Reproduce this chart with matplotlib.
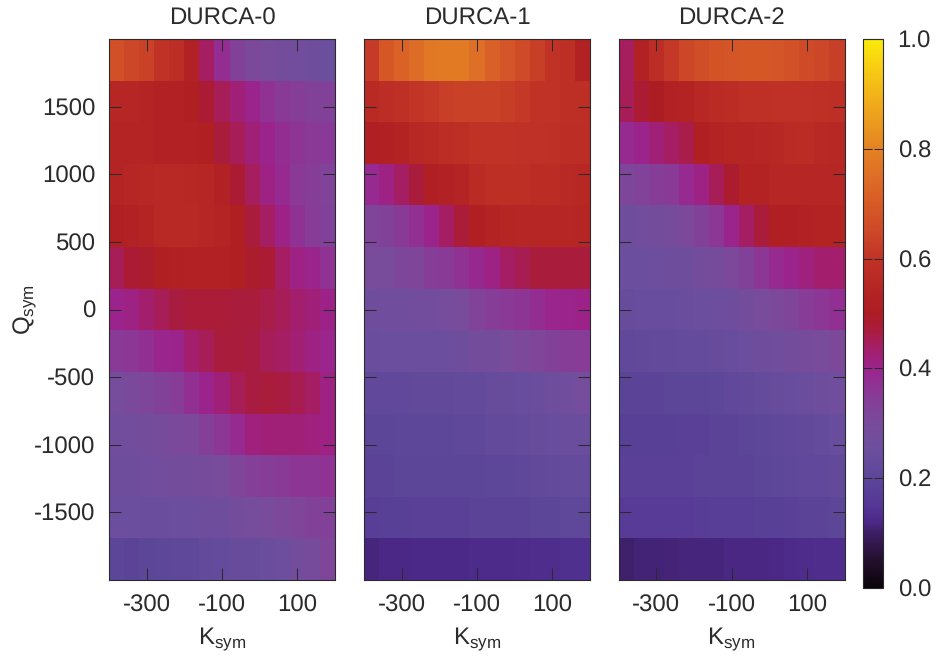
import numpy as np
import matplotlib
matplotlib.use('Agg')
import matplotlib.pyplot as plt
from matplotlib.colors import LinearSegmentedColormap

plt.rcParams['font.family'] = ['Liberation Sans', 'DejaVu Sans']
plt.rcParams['mathtext.fontset'] = 'custom'
plt.rcParams['mathtext.rm'] = 'Liberation Sans'
plt.rcParams['mathtext.default'] = 'rm'
plt.rcParams['axes.unicode_minus'] = False
plt.rcParams['text.hinting'] = 'none'
plt.rcParams['text.hinting_factor'] = 1

# cell edges
ksym_edges = np.linspace(-400, 200, 16)
qsym_edges = np.linspace(2000, -2000, 14)

titles = ['DURCA-0', 'DURCA-1', 'DURCA-2']
xticks = [-300, -100, 100]
yticks = [-1500, -1000, -500, 0, 500, 1000, 1500]
cticks = [0.0, 0.2, 0.4, 0.6, 0.8, 1.0]

# rows run top to bottom (Qsym 2000 -> -2000), columns left to right
durca0 = [
    [.67, .645, .635, .60, .58, .53, .44, .38, .33, .31, .30, .285, .275, .265, .25],
    [.55, .55, .54, .53, .53, .52, .48, .45, .42, .40, .37, .35, .34, .33, .33],
    [.54, .54, .54, .53, .53, .53, .52, .47, .45, .42, .40, .38, .365, .355, .35],
    [.54, .55, .555, .56, .56, .555, .55, .53, .48, .445, .41, .385, .355, .34, .325],
    [.515, .53, .54, .56, .56, .56, .55, .54, .52, .47, .44, .405, .37, .345, .33],
    [.45, .48, .49, .52, .525, .53, .53, .53, .52, .49, .48, .44, .41, .40, .37],
    [.40, .41, .43, .45, .465, .475, .475, .475, .47, .47, .46, .45, .43, .42, .405],
    [.35, .36, .375, .395, .40, .43, .45, .47, .47, .465, .45, .44, .425, .41, .395],
    [.29, .305, .315, .33, .345, .375, .40, .42, .45, .465, .47, .465, .455, .44, .41],
    [.27, .275, .28, .295, .305, .31, .335, .36, .385, .415, .42, .42, .42, .415, .41],
    [.265, .265, .27, .275, .28, .285, .295, .30, .32, .335, .34, .35, .365, .365, .37],
    [.25, .25, .245, .245, .25, .25, .265, .265, .28, .29, .30, .31, .32, .33, .33],
    [.20, .195, .20, .205, .21, .21, .225, .23, .235, .235, .245, .255, .28, .295, .32],
]
durca1 = [
    [.62, .69, .72, .745, .775, .78, .78, .75, .715, .685, .66, .63, .60, .585, .53],
    [.565, .58, .59, .605, .615, .63, .635, .635, .635, .625, .615, .60, .60, .585, .585],
    [.515, .525, .535, .555, .565, .58, .585, .60, .60, .60, .595, .595, .59, .58, .58],
    [.385, .41, .44, .47, .515, .53, .54, .57, .585, .585, .585, .575, .575, .56, .555],
    [.32, .33, .35, .375, .40, .44, .475, .52, .535, .545, .55, .55, .55, .55, .545],
    [.30, .30, .315, .32, .34, .35, .37, .39, .41, .44, .455, .47, .47, .47, .47],
    [.265, .27, .27, .275, .275, .29, .30, .325, .34, .355, .365, .38, .395, .40, .405],
    [.245, .25, .25, .25, .25, .25, .26, .28, .285, .30, .31, .32, .33, .34, .345],
    [.215, .215, .215, .22, .22, .22, .225, .225, .235, .235, .24, .245, .26, .27, .29],
    [.20, .20, .205, .205, .205, .205, .21, .21, .225, .225, .23, .235, .24, .245, .245],
    [.195, .195, .20, .20, .20, .20, .20, .20, .205, .205, .21, .22, .225, .23, .23],
    [.175, .18, .18, .185, .185, .185, .185, .19, .19, .195, .195, .20, .20, .21, .21],
    [.115, .12, .12, .122, .122, .122, .122, .125, .125, .125, .128, .13, .13, .135, .135],
]
durca2 = [
    [.445, .53, .58, .615, .645, .665, .68, .685, .69, .69, .685, .675, .66, .645, .63],
    [.45, .48, .50, .53, .535, .555, .57, .575, .59, .59, .595, .595, .595, .59, .585],
    [.385, .40, .42, .44, .46, .52, .535, .545, .545, .55, .555, .57, .575, .56, .555],
    [.315, .325, .34, .35, .385, .41, .45, .485, .535, .535, .55, .55, .55, .55, .55],
    [.265, .275, .28, .295, .31, .33, .36, .40, .44, .47, .52, .515, .53, .535, .535],
    [.25, .25, .255, .26, .265, .285, .295, .31, .33, .36, .385, .40, .415, .43, .43],
    [.235, .24, .24, .24, .245, .25, .255, .265, .285, .30, .31, .32, .345, .36, .375],
    [.215, .22, .225, .225, .23, .23, .235, .24, .25, .26, .27, .285, .295, .30, .31],
    [.195, .195, .195, .20, .20, .20, .205, .215, .22, .23, .235, .24, .245, .26, .27],
    [.18, .18, .18, .18, .185, .185, .19, .195, .20, .205, .21, .215, .22, .23, .24],
    [.185, .185, .185, .185, .185, .19, .19, .19, .195, .20, .205, .21, .215, .215, .22],
    [.165, .165, .165, .165, .165, .17, .175, .175, .175, .18, .18, .185, .19, .195, .20],
    [.105, .11, .11, .112, .115, .115, .115, .118, .118, .118, .12, .125, .128, .13, .13],
]

# palette as it looks on the reference colour bar
palette = [
    (0.00, (10, 5, 10)), (0.05, (35, 15, 45)), (0.10, (60, 30, 100)),
    (0.12, (75, 40, 135)), (0.15, (85, 55, 150)), (0.20, (92, 70, 152)),
    (0.25, (108, 78, 158)), (0.30, (120, 75, 155)), (0.36, (140, 55, 150)),
    (0.40, (155, 35, 140)), (0.44, (165, 30, 100)), (0.47, (170, 28, 60)),
    (0.50, (172, 28, 35)), (0.55, (182, 38, 36)), (0.60, (192, 50, 38)),
    (0.65, (205, 72, 40)), (0.70, (215, 90, 38)), (0.75, (222, 110, 38)),
    (0.80, (228, 130, 35)), (0.85, (235, 155, 30)), (0.90, (243, 180, 25)),
    (0.95, (248, 205, 20)), (1.00, (250, 235, 10)),
]
cmap = LinearSegmentedColormap.from_list(
    'durca', [(v, tuple(c / 255 for c in rgb)) for v, rgb in palette], N=512)

W, H = 936, 660
INK = '#2b2a2c'
FS = 17


def box(x0, y0, x1, y1):
    return [x0 / W, 1 - y1 / H, (x1 - x0) / W, (y1 - y0) / H]


fig = plt.figure(figsize=(W / 100, H / 100), dpi=100)
panels = [(109, 335), (364, 590), (618.5, 844.5)]

for i, (data, title) in enumerate(zip([durca0, durca1, durca2], titles)):
    ax = fig.add_axes(box(panels[i][0], 39, panels[i][1], 580))
    mesh = ax.pcolormesh(ksym_edges, qsym_edges, np.array(data), cmap=cmap,
                         vmin=0, vmax=1, shading='flat', linewidth=0, rasterized=True)
    ax.set_xlim(-400, 200)
    ax.set_ylim(-2000, 2000)
    ax.set_xticks(xticks)
    ax.set_yticks(yticks)
    ax.tick_params(direction='in', top=True, right=True, length=8.6, width=0.75,
                   color=INK, labelcolor=INK, labelsize=FS, pad=10)
    ax.set_title(title, fontsize=FS, color=INK, pad=10)
    ax.set_xlabel(r'K$_{sym}$', fontsize=17.5, color=INK)
    ax.xaxis.set_label_coords(0.5, -0.083)
    if i == 0:
        ax.set_ylabel(r'Q$_{sym}$', fontsize=17.5, color=INK)
        ax.yaxis.set_label_coords(-0.305, 0.5)
    else:
        ax.tick_params(labelleft=False)
    for s in ax.spines.values():
        s.set_linewidth(0.8)
        s.set_color(INK)

cax = fig.add_axes(box(863, 39, 883, 588))
cb = fig.colorbar(mesh, cax=cax, ticks=cticks)
cb.ax.set_yticklabels(['%.1f' % t for t in cticks])
cb.ax.tick_params(direction='in', left=True, right=True, length=6.5, width=0.75,
                  color=INK, labelcolor=INK, labelsize=FS, pad=10.5)
cb.outline.set_linewidth(0.8)
cb.outline.set_edgecolor(INK)

fig.savefig('out.png', dpi=100)
